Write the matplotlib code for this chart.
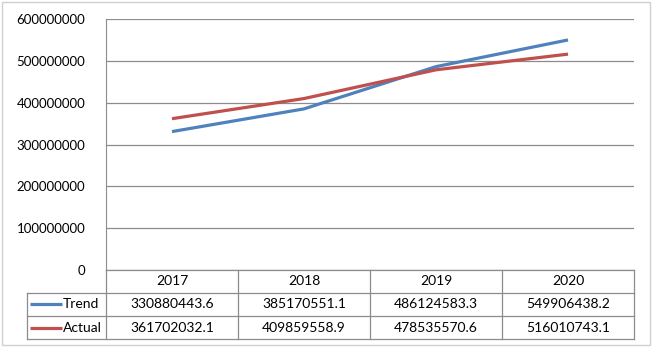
import numpy as np
import matplotlib.pyplot as plt
from matplotlib.patches import Rectangle

# data
years = ['2017', '2018', '2019', '2020']
trend = [330880443.6, 385170551.1, 486124583.3, 549906438.2]
actual = [361702032.1, 409859558.9, 478535570.6, 516010743.1]
series = [('Trend', trend, '#4F81BD'), ('Actual', actual, '#C0504D')]

W, H = 653, 348
plt.rcParams['font.family'] = ['Lato', 'DejaVu Sans']
fig = plt.figure(figsize=(W/100, H/100), dpi=100)

# plot area in pixels
left, right, top, bottom = 106, 634, 19, 270
ax = fig.add_axes([left/W, 1 - bottom/H, (right-left)/W, (bottom-top)/H])
x = np.arange(len(years))
for name, vals, col in series:
    ax.plot(x, vals, color=col, lw=2.3, solid_capstyle='butt')
ax.set_xlim(-0.5, len(years) - 0.5)
ax.set_ylim(0, 600000000)
ax.set_yticks(np.arange(0, 600000001, 100000000))
ax.yaxis.set_major_formatter(plt.FuncFormatter(lambda v, p: '%d' % v))
ax.tick_params(axis='y', length=0, labelsize=9.5, pad=15, colors='black')
ax.tick_params(axis='x', length=0, labelbottom=False)
ax.grid(axis='y', color='#8c8c8c', lw=0.9)
for s in ['top', 'right', 'bottom']:
    ax.spines[s].set_visible(False)
ax.spines['left'].set_color('#8c8c8c')
ax.set_axisbelow(True)

# overlay in pixel coordinates for the data table and frame
ov = fig.add_axes([0, 0, 1, 1])
ov.set_xlim(0, W)
ov.set_ylim(H, 0)
ov.axis('off')
ov.add_patch(Rectangle((2, 2), W - 5, H - 5, fill=False, ec='#d0d0d0', lw=1))

gc = '#8c8c8c'
tl = 27
rows_y = [270, 292.5, 316, 339]
colw = (right - left) / len(years)
col_x = [left + i * colw for i in range(len(years) + 1)]
# horizontal lines
ov.plot([left, right], [rows_y[0]] * 2, color=gc, lw=0.9)
for yy in rows_y[1:]:
    ov.plot([tl, right], [yy] * 2, color=gc, lw=0.9)
# vertical lines
ov.plot([tl, tl], [rows_y[1], rows_y[3]], color=gc, lw=0.9)
for xx in col_x:
    ov.plot([xx, xx], [rows_y[0], rows_y[3]], color=gc, lw=0.9)

fs = 10
for i, yr in enumerate(years):
    ov.text((col_x[i] + col_x[i+1]) / 2, (rows_y[0] + rows_y[1]) / 2, yr,
            ha='center', va='center', fontsize=fs)
for r, (name, vals, col) in enumerate(series):
    yc = (rows_y[r+1] + rows_y[r+2]) / 2
    ov.plot([30, 62], [yc, yc], color=col, lw=2.3, solid_capstyle='butt')
    ov.text(63, yc, name, ha='left', va='center', fontsize=fs)
    for i, v in enumerate(vals):
        ov.text((col_x[i] + col_x[i+1]) / 2, yc, '%.1f' % v,
                ha='center', va='center', fontsize=fs)

fig.savefig('out.png', dpi=100)
